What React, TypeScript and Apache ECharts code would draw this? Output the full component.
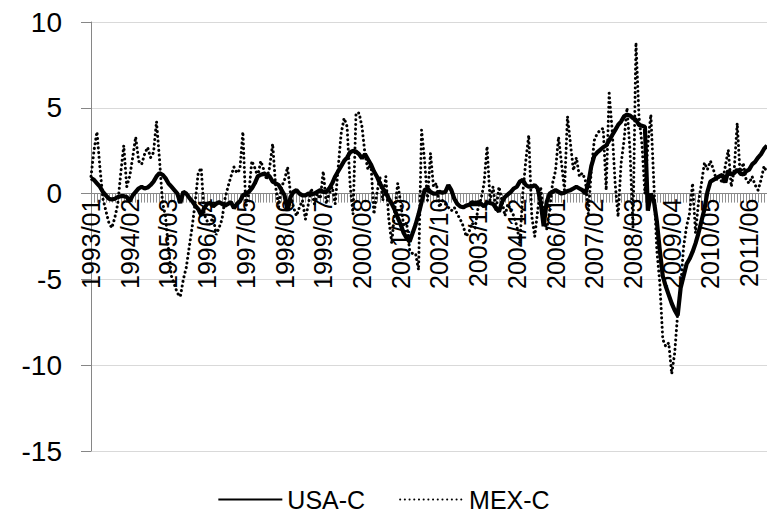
import React, { useEffect, useRef } from "react";
import * as echarts from "echarts";

// Categories: monthly, 1993/01 .. 2011/12
const startYear = 1993;
const monthCount = 228;
const categories: string[] = [];
for (let k = 0; k < monthCount; k++) {
  const y = startYear + Math.floor(k / 12);
  const m = (k % 12) + 1;
  categories.push(`${y}/${m < 10 ? "0" + m : m}`);
}

const seriesNames = ["USA-C", "MEX-C"];

const usaC = [
  0.9, 0.8, 0.6, 0.4, 0.1, -0.1, -0.3, -0.35, -0.3, -0.2,
  -0.15, -0.15, -0.2, -0.45, -0.1, 0.1, 0.3, 0.4, 0.3, 0.35,
  0.5, 0.7, 1.0, 1.2, 1.1, 0.9, 0.6, 0.4, 0.2, 0,
  -0.55, 0.1, 0, -0.25, -0.45, -0.7, -0.9, -1.25, -0.85, -0.6,
  -0.55, -0.75, -0.6, -0.5, -0.6, -0.7, -0.6, -0.5, -0.85, -0.6,
  -0.45, -0.1, 0, 0.1, 0.3, 0.6, 1.0, 1.1, 1.15, 1.1,
  1.0, 0.7, 0.6, 0.5, 0.2, -0.1, -1.0, -0.2, 0.1, 0.2,
  0, -0.1, -0.1, 0, 0, 0, 0.1, 0.2, 0.1, 0.1,
  0.3, 0.6, 1.0, 1.3, 1.6, 1.9, 2.1, 2.4, 2.5, 2.45,
  2.3, 2.05, 2.3, 2.0, 1.7, 1.3, 1.0, 0.6, 0.3, 0.05,
  -0.3, -0.6, -0.95, -1.4, -1.8, -2.3, -2.6, -2.8, -2.3, -1.8,
  -1.2, -0.5, 0.2, 0.3, 0.1, 0, 0, 0.1, 0.05, 0.1,
  0.5, 0.2, -0.3, -0.6, -0.75, -0.8, -0.7, -0.65, -0.5, -0.55,
  -0.5, -0.6, -0.75, -0.5, -0.55, -0.6, -0.85, -1.05, -0.5, -0.2,
  -0.05, 0.1, 0.3, 0.4, 0.7, 0.8, 0.5, 0.4, 0.4, 0.5,
  0.3, -0.5, -1.9, -0.5, 0, 0.1, 0.2, 0.1, 0, 0.05,
  0.15, 0.2, 0.3, 0.4, 0.3, 0.2, 0, 0.6, 1.6, 2.2,
  2.4, 2.55, 2.7, 2.8, 3.1, 3.4, 3.7, 4.0, 4.2, 4.5,
  4.6, 4.55, 4.4, 4.3, 4.0, 3.95, 3.9, -1.0, 0, -0.4,
  -1.6, -3.3, -4.8, -5.4, -5.9, -6.4, -6.8, -7.1, -5.5, -4.8,
  -4.1, -3.8, -3.4, -2.9, -2.3, -1.6, -0.9, 0.1, 0.7, 0.8,
  0.9, 1.0, 1.1, 0.65, 1.35, 1.1, 1.2, 1.4, 1.2, 1.1,
  1.3, 1.4, 1.7, 1.85, 2.1, 2.3, 2.6, 2.8,
];

const mexC = [
  1.0, 2.5, 3.6, 1.5, -0.3, -1.0, -1.7, -2.0, -1.4, -0.6,
  1.2, 2.8, 0.4, 1.0, 2.1, 3.3, 1.9, 1.7, 2.3, 2.7,
  2.1, 2.4, 4.2, 2.0, -0.5, -1.3, -3.2, -4.8, -5.3, -5.8,
  -6.0, -5.0, -4.3, -3.1, -1.9, -0.5, 1.2, 1.5, -1.2, -1.6,
  -1.8, -1.3, -2.4, -2.0, -1.5, -0.3, 0.4, 1.0, 1.55, 1.2,
  1.4, 3.6, -0.8, 0.0, 1.9, 1.5, 1.0, 1.9, 1.4, 0.8,
  1.55, 2.9, 0.4, -0.8, 0.4, 0.8, 1.55, 0.0, -0.8, -1.3,
  -0.8, -0.4, -1.5, -0.6, 0.3, -0.6, 0.0, -0.3, 1.3, -0.6,
  0.0, 0.4, -0.6, 1.5, 3.5, 4.4, 3.9, 0.5, -1.2, 4.7,
  4.7, 3.9, 2.3, 1.4, 1.75, -1.2, 0.0, 1.0, -0.4, 1.0,
  -1.5, -2.9, -0.95, 0.6, -0.56, -1.9, -1.7, -3.3, -3.5, -3.5,
  -4.45, 3.7, 1.95, -0.4, 2.35, 0.4, 0.6, -0.8, -0.4, -0.6,
  -0.8, -1.0, -0.8, -1.2, -1.5, -1.9, -2.5, -2.2, -1.7, -2.0,
  -0.8, -0.3, 0.6, 2.75, -0.4, 0.4, -1.0, 0.4, -0.4, -1.3,
  -0.6, -1.0, -1.3, -1.9, -2.9, 0.0, 1.9, 3.4, -1.3, -2.5,
  -1.0, 0.4, -1.35, -2.1, -1.0, 0.6, 1.35, 3.3, 1.75, 0.2,
  4.5, 2.9, 1.35, 2.1, 1.0, 1.2, 0.8, -1.2, 1.35, 3.1,
  3.5, 3.7, 3.8, 0.2, 5.85, 3.7, 0.6, -1.35, 1.75, 3.1,
  5.0, 2.5, -2.0, 8.8, 4.5, 2.9, 0.0, 2.9, 4.6, 0.6,
  -3.3, -5.2, -8.5, -8.9, -8.7, -10.5, -9.3, -7.0, -5.4, -3.1,
  -1.9, -1.15, 0.6, -2.3, -0.5, 0.6, 1.8, 1.4, 1.9, 1.4,
  0.8, 1.0, 0.6, 1.6, 2.55, 0.4, 1.4, 4.1, 1.0, 1.8,
  0.8, 0.6, 1.0, 0.5, 0.2, 0.8, 1.6, 1.2,
];

const yMin = -15;
const yMax = 10;
const yStep = 5;

const REGULAR = "'Liberation Sans', Arial, sans-serif";

const GRID_TOP = 22;
const GRID_HEIGHT = 429;

export default function App() {
  const ref = useRef<HTMLDivElement>(null);

  useEffect(() => {
    if (!ref.current) return;
    const chart = echarts.init(ref.current, undefined, { renderer: "svg" });
    // distance (px) from the grid bottom up to the zero line
    const zeroOffset = -GRID_HEIGHT * ((0 - yMin) / (yMax - yMin));
    chart.setOption({
      animation: false,
      backgroundColor: "#ffffff",
      grid: { left: 91, top: GRID_TOP, width: 678, height: GRID_HEIGHT, containLabel: false },
      legend: {
        data: seriesNames,
        top: 482,
        left: "center",
        itemWidth: 64,
        itemHeight: 14,
        itemGap: 34,
        itemStyle: { opacity: 0 },
        textStyle: { fontFamily: REGULAR, fontSize: 25, color: "#000" },
      },
      xAxis: {
        type: "category",
        data: categories,
        boundaryGap: false,
        position: "bottom",
        offset: zeroOffset,
        z: 0,
        axisLine: { onZero: false, lineStyle: { color: "#868686", width: 1 } },
        axisTick: { show: true, interval: 0, length: 9, lineStyle: { color: "#909090", width: 1 } },
        axisLabel: {
          interval: 12,
          rotate: 90,
          margin: 5,
          fontSize: 25,
          fontFamily: REGULAR,
          color: "#000",
        },
        splitLine: { show: false },
      },
      yAxis: {
        type: "value",
        min: yMin,
        max: yMax,
        interval: yStep,
        axisLine: { show: true, lineStyle: { color: "#868686", width: 1 } },
        axisTick: { show: true, length: 10, lineStyle: { color: "#868686" } },
        axisLabel: { margin: 29, fontSize: 28, fontFamily: REGULAR, color: "#000" },
        splitLine: { show: true, lineStyle: { color: "#d9d9d9", width: 1 } },
      },
      series: [
        {
          name: seriesNames[0],
          type: "line",
          data: usaC,
          symbol: "none",
          z: 4,
          lineStyle: { color: "#000", width: 4.2 },
          itemStyle: { color: "#000" },
        },
        {
          name: seriesNames[1],
          type: "line",
          data: mexC,
          symbol: "none",
          z: 3,
          lineStyle: { color: "#000", width: 3, type: [0.1, 4.6], cap: "round" },
          itemStyle: { color: "#000" },
        },
      ],
    });
    return () => chart.dispose();
  }, []);

  return (
    <div
      ref={ref}
      style={{ position: "absolute", left: 0, top: 0, width: 767, height: 525 }}
    />
  );
}
